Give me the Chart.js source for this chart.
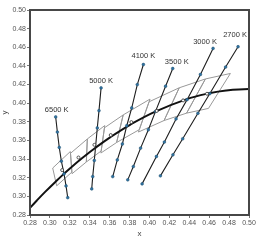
<!DOCTYPE html>
<html lang="en">
  <head>
    <meta charset="UTF-8" />
    <title>CCT lines and ANSI quadrangles</title>
    <script src="https://cdn.jsdelivr.net/npm/chart.js"></script>
    <style>
      body {
        margin: 0;
        background: #ffffff;
      }
      #wrap {
        width: 264px;
        height: 241px;
      }
    </style>
  </head>
  <body>
    <div id="wrap"><canvas id="cie" width="264" height="241"></canvas></div>
    <script>
      // tick values
      const xTicks = [0.28, 0.30, 0.32, 0.34, 0.36, 0.38, 0.40, 0.42, 0.44, 0.46, 0.48, 0.50];
      const yTicks = [0.28, 0.30, 0.32, 0.34, 0.36, 0.38, 0.40, 0.42, 0.44, 0.46, 0.48, 0.50];

      // isotemperature lines (x, y)
      const cctNames = ["6500 K", "5000 K", "4100 K", "3500 K", "3000 K", "2700 K"];
      const line6500 = [[0.3058, 0.3852], [0.3075, 0.3690], [0.3094, 0.3525], [0.3115, 0.3378], [0.3142, 0.3241], [0.3162, 0.3112], [0.3179, 0.2986]];
      const line5000 = [[0.3514, 0.4164], [0.3493, 0.3920], [0.3476, 0.3734], [0.3446, 0.3385], [0.3430, 0.3212], [0.3420, 0.3080]];
      const line4100 = [[0.3939, 0.4415], [0.3878, 0.4200], [0.3822, 0.3949], [0.3772, 0.3758], [0.3728, 0.3562], [0.3677, 0.3391], [0.3631, 0.3212]];
      const line3500 = [[0.4234, 0.4372], [0.4162, 0.4182], [0.4061, 0.3912], [0.3989, 0.3715], [0.3911, 0.3518], [0.3838, 0.3320], [0.3782, 0.3177]];
      const line3000 = [[0.4639, 0.4588], [0.4512, 0.4308], [0.4378, 0.4038], [0.4267, 0.3831], [0.4150, 0.3583], [0.4070, 0.3428], [0.3926, 0.3134]];
      const line2700 = [[0.4890, 0.4606], [0.4765, 0.4388], [0.4607, 0.4103], [0.4487, 0.3891], [0.4334, 0.3618], [0.4236, 0.3446], [0.4110, 0.3220]];
      const cctLines = [line6500, line5000, line4100, line3500, line3000, line2700];

      // Planckian locus
      const planckX = [0.2720, 0.2759, 0.2807, 0.2869, 0.2952, 0.3064, 0.3135, 0.3221, 0.3325, 0.3451, 0.3608, 0.3805, 0.4053, 0.4369, 0.4599, 0.4770, 0.5018, 0.5267];
      const planckY = [0.2779, 0.2826, 0.2884, 0.2956, 0.3048, 0.3165, 0.3236, 0.3318, 0.3411, 0.3516, 0.3636, 0.3768, 0.3907, 0.4041, 0.4106, 0.4137, 0.4153, 0.4133];

      // quadrangle corners
      const quad2700 = [[0.4813, 0.4319], [0.4562, 0.4260], [0.4373, 0.3893], [0.4593, 0.3944]];
      const quad3000 = [[0.4562, 0.4260], [0.4299, 0.4165], [0.4147, 0.3814], [0.4373, 0.3893]];
      const quad3500 = [[0.4299, 0.4165], [0.3996, 0.4015], [0.3889, 0.3690], [0.4147, 0.3814]];
      const quad4000 = [[0.4006, 0.4044], [0.3736, 0.3874], [0.3670, 0.3578], [0.3898, 0.3716]];
      const quad4500 = [[0.3736, 0.3874], [0.3548, 0.3736], [0.3512, 0.3465], [0.3670, 0.3578]];
      const quad5000 = [[0.3551, 0.3760], [0.3376, 0.3616], [0.3366, 0.3369], [0.3515, 0.3487]];
      const quad5700 = [[0.3376, 0.3616], [0.3207, 0.3462], [0.3222, 0.3243], [0.3366, 0.3369]];
      const quad6500 = [[0.3205, 0.3481], [0.3028, 0.3304], [0.3068, 0.3113], [0.3221, 0.3261]];
      const quads = [quad2700, quad3000, quad3500, quad4000, quad4500, quad5000, quad5700, quad6500];

      // quadrangle centres
      const centerX = [0.4578, 0.4338, 0.4073, 0.3818, 0.3611, 0.3447, 0.3287, 0.3123];
      const centerY = [0.4101, 0.4030, 0.3917, 0.3797, 0.3658, 0.3553, 0.3417, 0.3282];

      const toPts = (arr) => arr.map((p) => ({ x: p[0], y: p[1] }));

      const datasets = [];

      datasets.push({
        data: centerX.map((x, i) => ({ x: x, y: centerY[i] })),
        showLine: false,
        pointRadius: 1.5,
        pointBackgroundColor: "#ffffff",
        pointBorderColor: "#333333",
        pointBorderWidth: 0.8,
        order: 0,
      });

      cctLines.forEach((ln) => {
        datasets.push({
          data: toPts(ln),
          showLine: true,
          borderColor: "#1e1e1e",
          borderWidth: 1.1,
          pointRadius: 1.4,
          pointBackgroundColor: "#2f73a3",
          pointBorderColor: "#23506f",
          pointBorderWidth: 0.5,
          order: 1,
        });
      });

      datasets.push({
        data: planckX.map((x, i) => ({ x: x, y: planckY[i] })),
        showLine: true,
        borderColor: "#111111",
        borderWidth: 2,
        pointRadius: 0,
        tension: 0.4,
        order: 2,
      });

      quads.forEach((q) => {
        const pts = toPts(q);
        pts.push(pts[0]);
        datasets.push({
          data: pts,
          showLine: true,
          borderColor: "#999999",
          borderWidth: 1,
          pointRadius: 0,
          order: 3,
        });
      });

      // CCT labels, pixel offsets from each line's top point
      const labelOffsets = [[1, -7], [0, -7], [0, -8.5], [4, -7], [-8, -6.5], [-3, -11.5]];

      const framePlugin = {
        id: "frame",
        afterDraw(chart) {
          const { ctx, chartArea } = chart;
          ctx.save();
          ctx.strokeStyle = "#474747";
          ctx.lineWidth = 2;
          ctx.strokeRect(chartArea.left, chartArea.top, chartArea.right - chartArea.left, chartArea.bottom - chartArea.top);

          ctx.fillStyle = "#333333";
          ctx.font = "7.5px Arial, 'Liberation Sans', sans-serif";
          ctx.textAlign = "center";
          ctx.textBaseline = "middle";
          const xs = chart.scales.x;
          const ys = chart.scales.y;
          cctLines.forEach((ln, i) => {
            const px = xs.getPixelForValue(ln[0][0]) + labelOffsets[i][0];
            const py = ys.getPixelForValue(ln[0][1]) + labelOffsets[i][1];
            ctx.fillText(cctNames[i], px, py);
          });
          ctx.restore();
        },
      };

      const tickFont = { size: 7, family: "Arial, 'Liberation Sans', sans-serif" };

      new Chart(document.getElementById("cie").getContext("2d"), {
        type: "scatter",
        data: { datasets: datasets },
        options: {
          responsive: false,
          animation: false,
          layout: { padding: { top: 10, right: 15, left: 0, bottom: 0 } },
          plugins: { legend: { display: false }, tooltip: { enabled: false } },
          scales: {
            x: {
              type: "linear",
              min: 0.28,
              max: 0.50,
              afterBuildTicks: (s) => {
                s.ticks = xTicks.map((v) => ({ value: v }));
              },
              afterFit: (s) => {
                s.height = 26;
              },
              ticks: {
                font: tickFont,
                color: "#555555",
                padding: 1,
                maxRotation: 0,
                autoSkip: false,
                callback: (v) => v.toFixed(2),
              },
              grid: { drawOnChartArea: false, drawTicks: true, tickLength: 3, tickColor: "#777777" },
              border: { display: false },
              title: {
                display: true,
                text: "x",
                color: "#444444",
                font: { size: 8, family: "Arial, 'Liberation Sans', sans-serif" },
                padding: { top: 0, bottom: 2 },
              },
            },
            y: {
              type: "linear",
              min: 0.28,
              max: 0.50,
              afterBuildTicks: (s) => {
                s.ticks = yTicks.map((v) => ({ value: v }));
              },
              afterFit: (s) => {
                s.width = 30;
              },
              ticks: {
                font: tickFont,
                color: "#555555",
                padding: 1,
                autoSkip: false,
                callback: (v) => v.toFixed(2),
              },
              grid: { drawOnChartArea: false, drawTicks: true, tickLength: 3, tickColor: "#777777" },
              border: { display: false },
              title: {
                display: true,
                text: "y",
                color: "#444444",
                font: { size: 8, family: "Arial, 'Liberation Sans', sans-serif" },
                padding: { top: 0, bottom: 0 },
              },
            },
          },
        },
        plugins: [framePlugin],
      });
    </script>
  </body>
</html>
